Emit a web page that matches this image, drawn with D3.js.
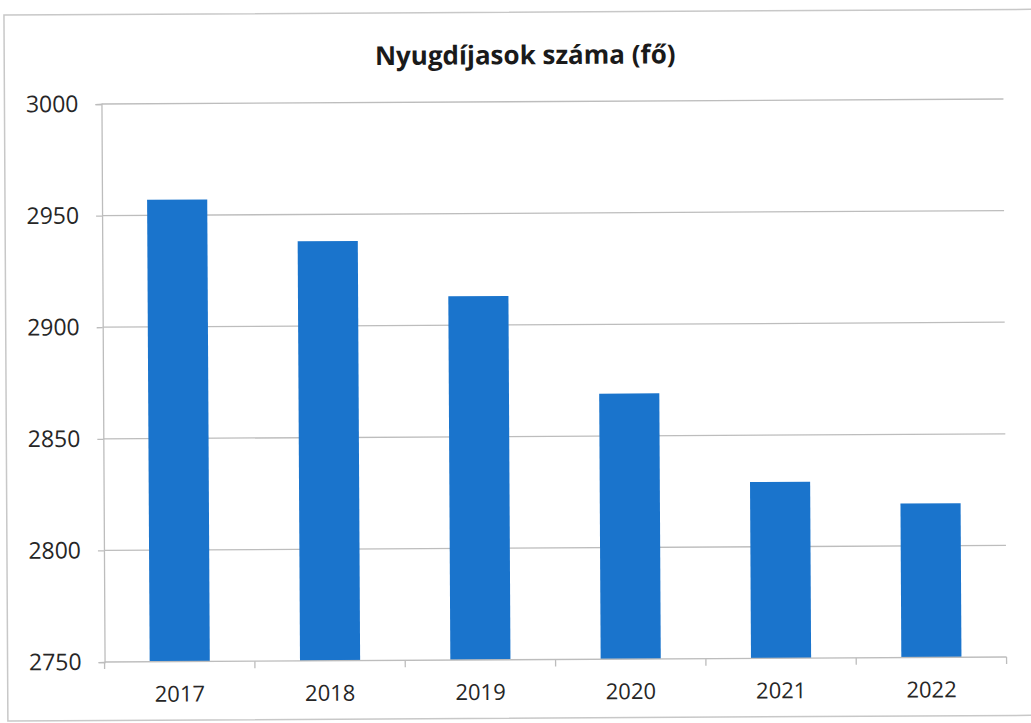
<!DOCTYPE html>
<html>
<head>
<meta charset="utf-8">
<script src="https://cdn.jsdelivr.net/npm/d3@7"></script>
<style>
  html, body { margin: 0; padding: 0; background: #fff; }
  svg { display: block; }
</style>
</head>
<body>
<script>
// Nyugdíjasok száma évenként
const years = ["2017", "2018", "2019", "2020", "2021", "2022"];
const pensioners = [2957, 2938, 2913, 2869, 2829, 2819];
const yTicks = [2750, 2800, 2850, 2900, 2950, 3000];
const chartTitle = "Nyugdíjasok száma (fő)";

const W = 1031, H = 723;
const plot = { left: 103, right: 1005, top: 101.5, bottom: 659.5 };

const svg = d3.select("body").append("svg")
  .attr("width", W).attr("height", H);

// the whole sheet sits very slightly tilted
const g = svg.append("g")
  .attr("transform", "rotate(-0.32, 554, 380)");

// outer chart frame
g.append("rect")
  .attr("x", 6).attr("y", 12)
  .attr("width", 1040).attr("height", 706)
  .attr("fill", "none")
  .attr("stroke", "#c8c8c8")
  .attr("stroke-width", 1.5);

const x = d3.scaleBand()
  .domain(years)
  .range([plot.left, plot.right])
  .paddingInner(0.6)
  .paddingOuter(0.3);

const y = d3.scaleLinear()
  .domain([2750, 3000])
  .range([plot.bottom, plot.top]);

// horizontal gridlines
g.append("g")
  .selectAll("line")
  .data(yTicks.filter(t => t > 2750))
  .join("line")
  .attr("x1", plot.left).attr("x2", plot.right)
  .attr("y1", d => y(d)).attr("y2", d => y(d))
  .attr("stroke", "#bdbdbd")
  .attr("stroke-width", 1.3);

// value axis
const yAxis = g.append("g")
  .attr("transform", `translate(${plot.left},0)`)
  .call(d3.axisLeft(y).tickValues(yTicks).tickFormat(d3.format("d"))
    .tickSize(6).tickPadding(17));
yAxis.select(".domain").attr("stroke", "#bdbdbd").attr("stroke-width", 1.3);
yAxis.selectAll(".tick line").attr("stroke", "#bdbdbd").attr("stroke-width", 1.3);
yAxis.selectAll("text")
  .attr("fill", "#262626")
  .style("font-family", "'Open Sans', sans-serif")
  .style("font-size", "23px");

// bars
g.append("g")
  .selectAll("rect")
  .data(years.map((yr, i) => ({ yr, v: pensioners[i] })))
  .join("rect")
  .attr("x", d => x(d.yr))
  .attr("y", d => y(d.v))
  .attr("width", x.bandwidth())
  .attr("height", d => y(2750) - y(d.v))
  .attr("fill", "#1a74cc");

// category axis with ticks between the bars
const xAxisG = g.append("g").attr("transform", `translate(0,${plot.bottom})`);
xAxisG.append("line")
  .attr("x1", plot.left).attr("x2", plot.right)
  .attr("y1", 0).attr("y2", 0)
  .attr("stroke", "#bdbdbd").attr("stroke-width", 1.3);
const bounds = d3.range(years.length + 1).map(i => plot.left + i * x.step());
xAxisG.selectAll("line.tk")
  .data(bounds)
  .join("line")
  .attr("class", "tk")
  .attr("x1", d => d).attr("x2", d => d)
  .attr("y1", 0).attr("y2", 7)
  .attr("stroke", "#bdbdbd").attr("stroke-width", 1.3);
xAxisG.selectAll("text")
  .data(years)
  .join("text")
  .attr("x", d => x(d) + x.bandwidth() / 2)
  .attr("y", 40)
  .attr("text-anchor", "middle")
  .attr("fill", "#262626")
  .style("font-family", "'Open Sans', sans-serif")
  .style("font-size", "22px")
  .text(d => d);

// title
g.append("text")
  .attr("x", 527)
  .attr("y", 64)
  .attr("text-anchor", "middle")
  .attr("fill", "#1a1a1a")
  .style("font-family", "'Open Sans', sans-serif")
  .style("font-weight", "bold")
  .style("font-size", "26px")
  .text(chartTitle);
</script>
</body>
</html>
